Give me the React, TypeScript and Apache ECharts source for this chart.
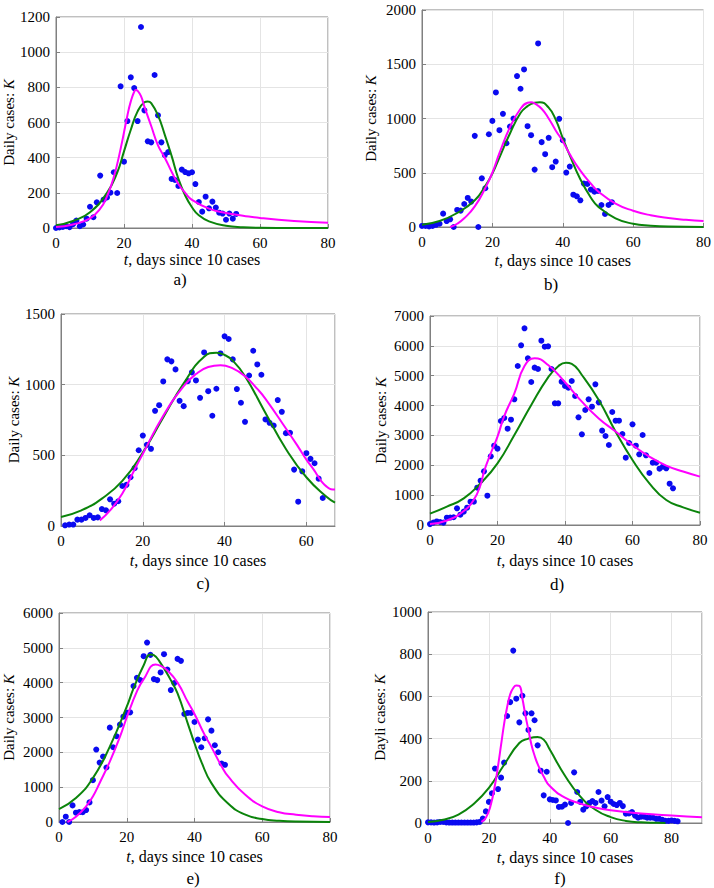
import React, { useEffect, useRef } from "react";
import * as echarts from "echarts";

// ---------- Panel a ----------
const START_A = 0;
const DAILY_A = [0, 3, 6, 10, 5, 22, 42, 10, 20, 53, 121, 61, 146, 298, 161, 174, 201, 317, 199, 806, 377, 608, 857, 796, 608, 1143, 669, 493, 487, 870, 641, 487, 415, 432, 279, 273, 239, 332, 318, 311, 317, 250, 148, 93, 178, 112, 150, 116, 87, 82, 47, 82, 53, 80];
const GREEN_T_A = [0, 5, 10, 15, 18, 20, 22, 24, 26, 27, 28, 30, 32, 34, 36, 38, 40, 42, 45, 50, 55, 60, 70, 80];
const GREEN_A = [15, 40, 90, 200, 315, 436, 559, 663, 715, 720, 710, 640, 530, 410, 280, 185, 118, 72, 38, 13, 4, 1, 0, 0];
const MAGENTA_T_A = [0, 5, 10, 13, 15, 17, 19, 21, 22, 23, 23.5, 24, 25, 26, 28, 30, 32, 34, 36, 38, 40, 45, 50, 55, 60, 70, 80];
const MAGENTA_A = [5, 20, 55, 110, 180, 290, 450, 640, 720, 775, 785, 780, 750, 690, 580, 470, 400, 320, 250, 200, 160, 110, 85, 70, 57, 40, 30];

// ---------- Panel b ----------
const START_B = 0;
const DAILY_B = [10, 10, 5, 10, 20, 30, 123, 55, 71, 0, 157, 151, 212, 268, 234, 840, 0, 449, 357, 855, 978, 1240, 892, 1043, 772, 926, 1000, 1391, 1274, 1452, 929, 846, 529, 1692, 782, 671, 822, 551, 603, 997, 800, 502, 557, 298, 283, 246, 400, 397, 345, 326, 332, 203, 120, 203, 228];
const GREEN_T_B = [0, 5, 10, 15, 18, 20, 22, 25, 28, 30, 32, 33.5, 36, 38, 40, 42, 45, 48, 50, 55, 60, 65, 70, 80];
const GREEN_B = [20, 55, 129, 246, 380, 492, 640, 862, 1050, 1114, 1145, 1150, 1100, 990, 820, 660, 440, 270, 190, 80, 30, 12, 4, 1];
const MAGENTA_T_B = [8, 10, 12, 15, 18, 20, 22, 25, 28, 30, 31, 32, 34, 36, 38, 40, 42, 45, 48, 50, 55, 60, 65, 70, 75, 80];
const MAGENTA_B = [0, 30, 80, 190, 360, 500, 680, 920, 1090, 1145, 1150, 1140, 1090, 1000, 890, 790, 670, 520, 400, 330, 215, 150, 108, 82, 66, 55];

// ---------- Panel c ----------
const START_C = 1;
const DAILY_C = [5, 10, 10, 45, 45, 57, 76, 57, 61, 120, 111, 189, 158, 175, 283, 291, 345, 409, 536, 640, 574, 546, 815, 855, 1023, 1179, 1165, 1108, 886, 848, 1025, 1087, 1030, 907, 1228, 954, 780, 971, 1221, 1342, 1323, 1179, 969, 872, 737, 1065, 1240, 1143, 1070, 754, 730, 711, 891, 808, 657, 659, 399, 172, 387, 515, 475, 444, 335, 198];
const GREEN_T_C = [0, 5, 10, 15, 20, 25, 30, 35, 38, 40, 42, 45, 50, 55, 60, 65, 67];
const GREEN_C = [64, 111, 194, 319, 520, 768, 1009, 1198, 1226, 1210, 1170, 1060, 800, 545, 345, 205, 165];
const MAGENTA_T_C = [9.5, 12, 15, 18, 20, 25, 30, 33, 36, 39, 42, 45, 48, 50, 55, 58, 60, 62, 63, 64, 65, 66, 67];
const MAGENTA_C = [40, 110, 230, 400, 510, 780, 990, 1075, 1125, 1138, 1115, 1060, 970, 900, 690, 560, 470, 390, 345, 305, 278, 260, 258];

// ---------- Panel d ----------
const START_D = 0;
const DAILY_D = [30, 80, 120, 100, 80, 245, 250, 260, 558, 346, 447, 580, 781, 780, 1250, 1485, 1797, 982, 2300, 2657, 2557, 3483, 3584, 3226, 3528, 4209, 5325, 6018, 6587, 5582, 4790, 5270, 5225, 6174, 5973, 5984, 5225, 4075, 4075, 4800, 4655, 4600, 4823, 4320, 3606, 3037, 3852, 4209, 3963, 4711, 4108, 3160, 2981, 2679, 3785, 3494, 3494, 3048, 2255, 2746, 3372, 2657, 2367, 3014, 2333, 1742, 2088, 2088, 1887, 1954, 1898, 1384, 1228];
const GREEN_T_D = [0, 5, 10, 15, 20, 25, 30, 35, 38, 40.3, 42, 45, 50, 55, 60, 65, 70, 75, 80];
const GREEN_D = [380, 614, 893, 1400, 2065, 3014, 4019, 4946, 5320, 5437, 5400, 5024, 4187, 3126, 2177, 1396, 837, 590, 413];
const MAGENTA_T_D = [0, 5, 10, 13, 15, 16, 18, 20, 22, 25, 28, 31, 35, 40, 45, 50, 55, 60, 65, 70, 75, 80];
const MAGENTA_D = [30, 150, 470, 850, 1350, 1786, 2400, 2958, 3650, 4410, 5325, 5582, 5359, 4780, 4130, 3570, 3130, 2680, 2290, 1990, 1790, 1620];

// ---------- Panel e ----------
const START_E = 1;
const DAILY_E = [0, 153, 0, 477, 267, 286, 280, 343, 563, 1202, 2080, 1707, 1879, 1564, 2709, 2146, 2461, 2795, 3024, 3138, 3148, 3902, 4140, 4073, 4760, 5151, 4798, 4102, 4073, 4293, 4817, 4378, 3787, 3987, 4683, 4626, 3100, 3130, 3130, 2871, 2365, 2146, 2404, 2947, 2623, 2204, 2003, 1679, 1641];
const GREEN_T_E = [0, 5, 10, 15, 20, 22, 25, 27, 28, 30, 33, 35, 38, 40, 42, 45, 50, 55, 60, 65, 70, 80];
const GREEN_E = [372, 687, 1260, 2165, 3310, 3835, 4500, 4810, 4790, 4560, 4073, 3690, 2833, 2260, 1736, 1116, 525, 210, 86, 35, 12, 2];
const MAGENTA_T_E = [2.5, 5, 8, 10, 12, 15, 18, 20, 23, 25, 28.5, 30, 32, 35, 38, 40, 43, 45, 48, 50, 55, 60, 65, 70, 75, 80];
const MAGENTA_E = [0, 150, 450, 734, 1120, 1736, 2450, 3000, 3750, 4100, 4520, 4480, 4350, 4000, 3450, 3100, 2500, 2150, 1600, 1300, 780, 450, 280, 210, 165, 143];

// ---------- Panel f ----------
const START_F = 0;
const DAILY_F = [3, 3, 2, 3, 5, 5, 3, 2, 2, 2, 2, 2, 2, 2, 2, 2, 3, 5, 21, 55, 100, 141, 258, 161, 215, 286, 507, 573, 817, 589, 477, 603, 520, 441, 520, 487, 368, 248, 131, 243, 112, 109, 107, 76, 77, 87, 0, 95, 240, 147, 100, 63, 79, 95, 104, 95, 147, 106, 79, 123, 101, 90, 85, 95, 80, 44, 45, 52, 35, 25, 30, 30, 25, 25, 25, 20, 20, 15, 10, 10, 12, 10, 8];
const GREEN_T_F = [0, 5, 10, 15, 20, 25, 30, 33, 36, 38, 40, 45, 50, 55, 60, 65, 70, 75, 78];
const GREEN_F = [5, 15, 40, 90, 166, 276, 379, 400, 408, 395, 348, 224, 126, 63, 28, 10, 3, 1, 0];
const MAGENTA_T_F = [17.5, 19, 20.5, 22, 23, 24, 25, 26, 27, 28, 29, 30, 31, 32, 33, 34, 35, 36, 38, 40, 45, 50, 55, 60, 70, 80, 90];
const MAGENTA_F = [5, 25, 80, 180, 270, 370, 470, 550, 610, 640, 652, 650, 590, 510, 440, 370, 320, 280, 220, 175, 120, 92, 73, 60, 45, 35, 27];

const X_NAME = "{i|t}, days since 10 cases";
const Y_NAME = "Daily cases: {i|K}";
const Y_NAME_F = "Dayli cases: {i|K}";
const PANEL_LETTERS = ["a)", "b)", "c)", "d)", "e)", "f)"];

const FONT = "Liberation Serif";

const PANELS = [
  { start: START_A, daily: DAILY_A, gt: GREEN_T_A, g: GREEN_A, mt: MAGENTA_T_A, m: MAGENTA_A, yName: Y_NAME,
    grid: { left: 56, top: 17, width: 272, height: 211 }, xMax: 80, yMax: 1200, yInt: 200, yGap: 40, xGap: 23, letter: [180, 279] },
  { start: START_B, daily: DAILY_B, gt: GREEN_T_B, g: GREEN_B, mt: MAGENTA_T_B, m: MAGENTA_B, yName: Y_NAME,
    grid: { left: 422, top: 10, width: 282, height: 217 }, xMax: 80, yMax: 2000, yInt: 500, yGap: 44, xGap: 25, letter: [551, 284] },
  { start: START_C, daily: DAILY_C, gt: GREEN_T_C, g: GREEN_C, mt: MAGENTA_T_C, m: MAGENTA_C, yName: Y_NAME,
    grid: { left: 61, top: 314, width: 274, height: 212 }, xMax: 67, yMax: 1500, yInt: 500, yGap: 40, xGap: 26, letter: [203, 583] },
  { start: START_D, daily: DAILY_D, gt: GREEN_T_D, g: GREEN_D, mt: MAGENTA_T_D, m: MAGENTA_D, yName: Y_NAME,
    grid: { left: 430, top: 316, width: 270, height: 209 }, xMax: 80, yMax: 7000, yInt: 1000, yGap: 42, xGap: 27, letter: [557, 584] },
  { start: START_E, daily: DAILY_E, gt: GREEN_T_E, g: GREEN_E, mt: MAGENTA_T_E, m: MAGENTA_E, yName: Y_NAME,
    grid: { left: 58, top: 613, width: 272, height: 209 }, xMax: 80, yMax: 6000, yInt: 1000, yGap: 43, xGap: 26, letter: [193, 878] },
  { start: START_F, daily: DAILY_F, gt: GREEN_T_F, g: GREEN_F, mt: MAGENTA_T_F, m: MAGENTA_F, yName: Y_NAME_F,
    grid: { left: 428, top: 612, width: 274, height: 211 }, xMax: 90, yMax: 1000, yInt: 200, yGap: 41, xGap: 26, letter: [560, 878] },
];

function buildOption() {
  const frame = "#808080";
  const gridLine = "#e4e4e4";
  const grids: any[] = [];
  const xAxes: any[] = [];
  const yAxes: any[] = [];
  const series: any[] = [];
  const graphics: any[] = [];

  PANELS.forEach((p, i) => {
    grids.push({ ...p.grid, show: true, borderColor: frame, borderWidth: 1, backgroundColor: "transparent", containLabel: false });
    xAxes.push({
      type: "value", gridIndex: i, min: 0, max: p.xMax, interval: 20,
      name: X_NAME, nameLocation: "middle", nameGap: p.xGap,
      nameTextStyle: { fontFamily: FONT, fontSize: 16, color: "#000",
        rich: { i: { fontFamily: FONT, fontSize: 16, fontStyle: "italic", color: "#000" } } },
      axisLine: { show: true, lineStyle: { color: frame, width: 1 } },
      axisTick: { show: true, inside: true, length: 4, lineStyle: { color: frame } },
      axisLabel: { fontFamily: FONT, fontSize: 15, color: "#000", margin: 7, showMaxLabel: p.xMax % 20 === 0,
        formatter: (v: number) => (v % 20 === 0 ? String(v) : "") },
      splitLine: { show: true, lineStyle: { color: gridLine, width: 1 } },
    });
    yAxes.push({
      type: "value", gridIndex: i, min: 0, max: p.yMax, interval: p.yInt,
      name: p.yName, nameLocation: "middle", nameGap: p.yGap, nameRotate: 90,
      nameTextStyle: { fontFamily: FONT, fontSize: 15, color: "#000",
        rich: { i: { fontFamily: FONT, fontSize: 15, fontStyle: "italic", color: "#000" } } },
      axisLine: { show: true, lineStyle: { color: frame, width: 1 } },
      axisTick: { show: true, inside: true, length: 4, lineStyle: { color: frame } },
      axisLabel: { fontFamily: FONT, fontSize: 15, color: "#000", margin: 6,
        formatter: (v: number) => String(v) },
      splitLine: { show: true, lineStyle: { color: gridLine, width: 1 } },
    });
    series.push({
      type: "scatter", xAxisIndex: i, yAxisIndex: i, symbol: "circle", symbolSize: 6,
      itemStyle: { color: "#0a0af0", opacity: 1 },
      data: p.daily.map((v, k) => [p.start + k, v]),
      z: 2,
    });
    series.push({
      type: "line", xAxisIndex: i, yAxisIndex: i, showSymbol: false, symbol: "none",
      smooth: 0.5,
      lineStyle: { color: "#0b840b", width: 2 },
      data: p.gt.map((t, k) => [t, p.g[k]]),
      z: 3,
    });
    series.push({
      type: "line", xAxisIndex: i, yAxisIndex: i, showSymbol: false, symbol: "none",
      smooth: 0.5,
      lineStyle: { color: "#ff00ff", width: 2 },
      data: p.mt.map((t, k) => [t, p.m[k]]),
      z: 4,
    });
    graphics.push({
      type: "text", x: p.letter[0], y: p.letter[1],
      style: { text: PANEL_LETTERS[i], fontFamily: FONT, fontSize: 17, fill: "#000", align: "center", verticalAlign: "middle" },
    });
  });

  return {
    animation: false,
    backgroundColor: "#ffffff",
    textStyle: { fontFamily: FONT },
    grid: grids,
    xAxis: xAxes,
    yAxis: yAxes,
    series,
    graphic: graphics,
  };
}

export default function App() {
  const ref = useRef<HTMLDivElement>(null);
  useEffect(() => {
    if (!ref.current) return;
    const chart = echarts.init(ref.current, null, { renderer: "svg" });
    chart.setOption(buildOption() as any);
    return () => chart.dispose();
  }, []);
  return (
    <div
      ref={ref}
      style={{ position: "absolute", left: 0, top: 0, width: 714, height: 888, background: "#fff" }}
    />
  );
}
